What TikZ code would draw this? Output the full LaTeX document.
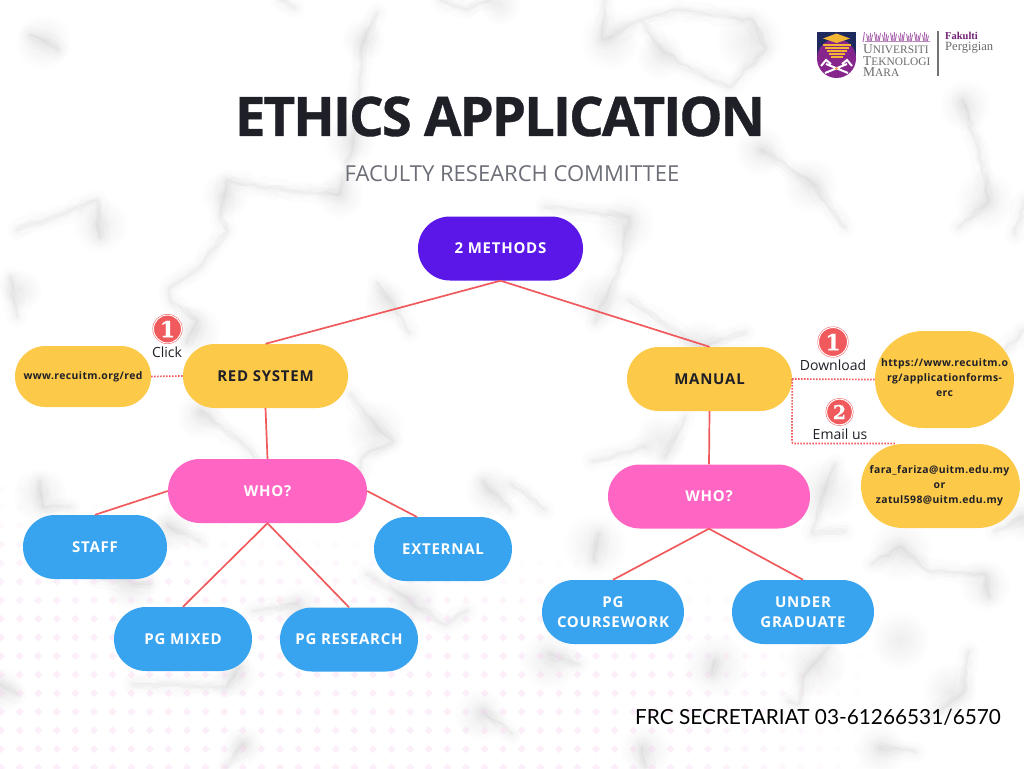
\documentclass[tikz,border=0pt]{standalone}
\usepackage{fontspec}
\setmainfont{Open Sans}
\newfontfamily\titlefont[LetterSpace=-3.6,BoldFeatures={FakeBold=0.7}]{Open Sans}
\newfontfamily\lblfont[LetterSpace=5]{Open Sans}
\newfontfamily\smallfont[LetterSpace=4]{Open Sans}
\newfontfamily\frcfont{Lato}
\newfontfamily\logofont{Liberation Serif}
\newfontfamily\numfont[BoldFeatures={FakeBold=0.8}]{DejaVu Serif}
\usetikzlibrary{decorations.pathmorphing,fadings}
\definecolor{ink}{HTML}{1F1F28}
\definecolor{sun}{HTML}{FDC948}
\definecolor{violet}{HTML}{5B16E8}
\definecolor{hotpink}{HTML}{FF66C4}
\definecolor{sky}{HTML}{38A3EE}
\definecolor{wire}{HTML}{F05A5C}
\definecolor{subgray}{HTML}{6D6F78}
\definecolor{uitmpurple}{HTML}{86268C}
\definecolor{uitmblue}{HTML}{1E2A5E}
\definecolor{uitmgold}{HTML}{F2B632}
\definecolor{dotpink}{HTML}{F8D6F4}
\tikzfading[name=fuzzycloud,inner color=transparent!0,outer color=transparent!100]
\tikzset{
  x=1pt,y=-1pt,
  pill/.style={rectangle,inner sep=0pt,align=center,
    minimum width=#1,font=\lblfont\bfseries\fontsize{15}{20}\selectfont},
  h64/.style={minimum height=64pt,rounded corners=31.9pt},
  yellowpill/.style={pill=#1,h64,fill=sun,text=ink},
  pinkpill/.style={pill=#1,h64,fill=hotpink,text=white},
  bluepill/.style={pill=#1,h64,fill=sky,text=white},
  link/.style={draw=wire,line width=1.7pt},
  dotlink/.style={draw=wire,line width=1.7pt,dash pattern=on 1.5pt off 1.5pt},
  badge/.style={circle,fill=wire,draw=wire,line width=.5pt,double=white,double distance=1pt,
    minimum size=#1,inner sep=0pt,text=white,font=\numfont\bfseries\fontsize{22}{22}\selectfont},
  captxt/.style={font=\fontsize{14}{15}\selectfont,text=ink,inner sep=0pt},
  smalltxt/.style={font=\smallfont\bfseries\fontsize{10.4}{15}\selectfont,text=ink},
  logotxt/.style={font=\logofont\fontsize{13.5}{13.5}\selectfont,text=black!58,anchor=west,inner sep=0pt},
  veinline/.style={line cap=round,line join=round,rounded corners=2.5pt,
    decoration={random steps,segment length=6pt,amplitude=2.6pt},decorate}
}
\newcommand{\vn}[1]{%
  \draw[veinline,black!50,opacity=.018,line width=20pt] #1;
  \draw[veinline,black!50,opacity=.022,line width=12pt] #1;
  \draw[veinline,black!50,opacity=.028,line width=7pt] #1;
  \draw[veinline,black!50,opacity=.03,line width=3.5pt] #1;
  \draw[veinline,black!55,opacity=.035,line width=1.3pt] #1;
}
\begin{document}
\begin{tikzpicture}
\useasboundingbox (0,0) rectangle (1024,768);
\fill[white] (0,0) rectangle (1024,768);
\pgfmathsetseed{7}
% marble clouds
\foreach \bx/\by/\br in {43/42/28,363/40/22,350/140/26,340/195/24,225/195/24,195/330/26,100/225/28,20/290/22,385/300/22,
  610/40/30,660/55/24,750/40/34,760/150/26,810/185/28,965/105/26,985/200/30,625/225/30,600/300/28,700/345/26,
  200/415/24,375/430/30,40/495/28,490/490/26,170/530/22,130/585/26,410/600/28,0/690/24,235/675/22,480/715/26,
  595/545/32,825/490/32,900/550/32,985/585/26,550/660/30,715/665/32,815/665/32,950/690/28,645/750/26,880/750/26,
  1024/520/22,243/745/20,660/440/26,500/5/20,900/640/30,300/610/24}{
  \fill[black!50,opacity=.13,path fading=fuzzycloud] (\bx,\by) circle[radius=\br pt];
}
% marble veins, top left
\vn{(377,13)--(363,43)--(360,77)--(353,143)--(340,193)--(300,192)--(260,187)--(227,180)--(220,217)--(227,230)--(200,267)--(170,287)--(170,300)--(197,320)--(187,343)}
\vn{(30,35)--(43,40)--(58,50)}
\vn{(17,230)--(60,215)--(97,200)--(100,237)}
\vn{(10,277)--(17,317)}
\vn{(377,283)--(390,300)--(410,333)}
\vn{(280,0)--(295,8)}
\vn{(440,0)--(465,9)--(490,0)}
% top right
\vn{(605,0)--(602,40)--(640,20)--(662,50)--(679,63)--(729,87)--(765,50)--(752,20)--(679,10)--(640,20)}
\vn{(762,150)--(812,183)--(845,227)}
\vn{(962,100)--(979,150)--(989,200)--(959,227)}
\vn{(545,207)--(629,217)--(622,260)--(595,323)}
\vn{(629,300)--(699,347)--(745,333)}
\vn{(1005,350)--(1024,330)}
\vn{(1024,200)--(1015,235)}
% bottom left
\vn{(200,411)--(240,441)--(260,464)}
\vn{(350,394)--(377,427)--(393,441)--(363,457)--(360,474)}
\vn{(40,481)--(43,507)--(70,507)}
\vn{(483,481)--(510,511)}
\vn{(167,524)--(200,541)}
\vn{(93,577)--(150,584)}
\vn{(367,574)--(400,594)--(443,624)--(467,611)}
\vn{(0,684)--(17,694)}
\vn{(240,667)--(227,687)--(133,684)}
\vn{(243,744)--(226,768)}
\vn{(483,711)--(512,734)}
\vn{(297,604)--(253,611)}
% bottom right
\vn{(685,417)--(665,457)}
\vn{(645,447)--(592,461)}
\vn{(835,464)--(822,497)--(812,534)--(845,531)}
\vn{(599,534)--(595,561)}
\vn{(512,484)--(545,510)}
\vn{(872,564)--(899,547)--(929,571)--(985,574)--(989,597)}
\vn{(1022,517)--(995,531)}
\vn{(549,654)--(579,664)}
\vn{(715,661)--(712,674)}
\vn{(829,647)--(805,674)--(799,704)--(789,701)}
\vn{(929,717)--(962,694)--(969,651)}
\vn{(642,747)--(645,768)}
\vn{(879,747)--(915,752)}
% dotted background
\foreach \r in {0,...,16} {
  \foreach \c in {0,...,55} {
    \pgfmathsetmacro{\px}{\c*18.6+1}
    \pgfmathsetmacro{\py}{470+\r*18.6}
    \pgfmathsetmacro{\dotop}{0.38*min(1,max(0,(\py-440)/170))*min(1,max(0,(880-\px)/200))*min(1,max(0,(\py-(460+0.16*\px))/90))}
    \ifdim\dotop pt>0.02pt
      \fill[dotpink,opacity=\dotop] (\px-4,\py) -- (\px,\py-4) -- (\px+4,\py) -- (\px,\py+4) -- cycle;
    \fi
  }
}
% logo
\fill[uitmblue] (817,32) rectangle (856,58);
\fill[uitmpurple] (836.5,58.5) circle[radius=19.5pt];
\fill[uitmgold] (836.5,33.5) -- (850,38.5) -- (836.5,43) -- (823,38.5) -- cycle;
\foreach \i/\w in {44/14,47/12,50/10,53/8,56/6}{ \fill[uitmgold] (836.5-\w,\i) rectangle (836.5+\w,\i+1.7); }
\draw[white,line width=2pt] (826,64) -- (848,73) (847,64) -- (825,73) (821,66) -- (826,60) -- (831,64) (852,66) -- (847,60) -- (842,64);
\fill[uitmgold!80!red] (836.5,68.5) circle[radius=1.4pt];
\foreach \i in {0,...,32}{
  \pgfmathsetmacro{\jy}{32+mod(\i*7,5)*0.9}
  \pgfmathsetmacro{\jx}{864.5+\i*2}
  \pgfmathsetmacro{\jw}{mod(\i*3,4)-1.5}
  \draw[uitmpurple!70,line width=.9pt] (\jx,\jy) -- (\jx+\jw,42);
}
\draw[uitmpurple!55,line width=1pt] (864.5,42) -- (930,42);
\node[logotxt] (lu) at (863,49) {U\fontsize{11.4}{11.4}\selectfont NIVERSITI};
\node[logotxt] (lt) at (863,61) {T\fontsize{11.4}{11.4}\selectfont EKNOLOGI};
\node[logotxt] (lm) at (863,72.5) {M\fontsize{11.4}{11.4}\selectfont ARA};
\draw[black!55,line width=1.1pt] (938,31) -- (938,76);
\node[logotxt,text=uitmpurple!85!black,font=\logofont\bfseries\fontsize{10.5}{11}\selectfont] (lf) at (945,36) {Fakulti};
\node[logotxt,font=\logofont\fontsize{12.6}{13}\selectfont] (lp) at (945,48) {Pergigian};
% titles
\node[font=\titlefont\bfseries\fontsize{54.5}{56}\selectfont,text=ink,inner sep=0pt] (title) at (500,116.5) {ETHICS APPLICATION};
\node[font=\fontsize{22}{26}\selectfont,text=subgray,inner sep=0pt] (sub) at (512,173.5) {FACULTY RESEARCH COMMITTEE};
\node[font=\frcfont\fontsize{20.8}{24}\selectfont,text=black,inner sep=0pt] (frc) at (818,717.5) {FRC SECRETARIAT 03-61266531/6570};
% nodes
\node[pill=165pt,h64,fill=violet,text=white] (top) at (500.5,248.5) {2 METHODS};
\node[yellowpill=165pt] (red) at (265.5,376) {RED SYSTEM};
\node[yellowpill=165pt] (man) at (709.5,379) {MANUAL};
\node[pill=136pt,minimum height=61pt,rounded corners=30.4pt,fill=sun,text=ink,font=\smallfont\bfseries\fontsize{10.4}{15}\selectfont] (www) at (83,376.5) {www.recuitm.org/red};
\node[pinkpill=199pt] (whoa) at (267.5,491) {WHO?};
\node[pinkpill=202pt] (whob) at (709,496.5) {WHO?};
\node[bluepill=144pt] (staff) at (95,547) {STAFF};
\node[bluepill=138pt] (ext) at (443,549) {EXTERNAL};
\node[bluepill=138pt] (mix) at (183,639) {PG MIXED};
\node[bluepill=138pt] (res) at (349,639.5) {PG RESEARCH};
\node[bluepill=142pt] (cw) at (613,612) {PG\\COURSEWORK};
\node[bluepill=142pt] (ug) at (803,612) {UNDER\\GRADUATE};
\node[pill=139pt,minimum height=97pt,rounded corners=48.4pt,fill=sun] (url) at (944.5,379.5) {};
\node[smalltxt,align=center,inner sep=0pt] (urltxt) at (944.5,378) {https://www.recuitm.o\\rg/applicationforms-\\erc};
\node[pill=159pt,minimum height=84pt,rounded corners=41.9pt,fill=sun] (mail) at (940.5,486) {};
\node[smalltxt,align=center,inner sep=0pt] (mailtxt) at (939.5,485.5) {fara\_fariza@uitm.edu.my\\or\\zatul598@uitm.edu.my};
% connectors
\coordinate (extjoin) at (417,517);
\coordinate (mailend) at (895,443.5);
\coordinate (mailbend) at (792,443.5);
\draw[link] (top.south) -- (red.north);
\draw[link] (top.south) -- (man.north);
\draw[link] (red.south) -- (whoa.north);
\draw[link] (man.south) -- (whob.north);
\draw[link] (whoa.west) -- (staff.north);
\draw[link] (whoa.east) -- (extjoin);
\draw[link] (whoa.south) -- (mix.north);
\draw[link] (whoa.south) -- (res.north);
\draw[link] (whob.south) -- (cw.north);
\draw[link] (whob.south) -- (ug.north);
\draw[dotlink] (www.east) -- (red.west);
\draw[dotlink] (man.east) -- (url.west);
\draw[dotlink,rounded corners=2pt] (man.east) -- (mailbend) -- (mailend);
% badges
\node[badge=28pt] (b1) at (167.5,329) {1};
\node[captxt] (c1) at (167,352) {Click};
\node[badge=29pt] (b2) at (833,342) {1};
\node[captxt] (c2) at (833,365.5) {Download};
\node[badge=26pt,font=\numfont\bfseries\fontsize{19}{19}\selectfont] (b3) at (839.5,412) {2};
\node[captxt] (c3) at (840,434.5) {Email us};
\end{tikzpicture}
\end{document}
